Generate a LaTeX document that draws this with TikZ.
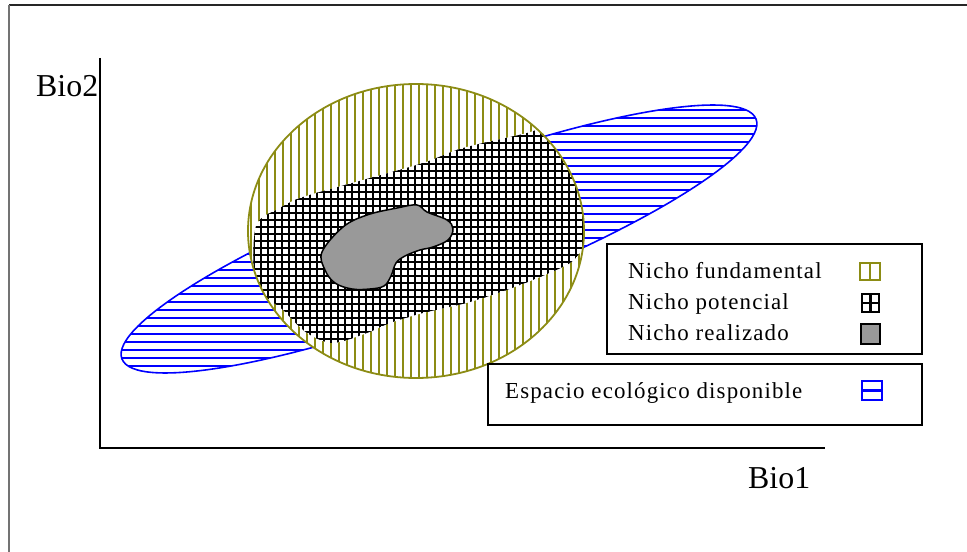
\documentclass[tikz,border=0pt]{standalone}
\usepackage{fontspec}
\setmainfont{Liberation Serif}
\newfontfamily\legfont[LetterSpace=5]{Liberation Serif}
\definecolor{olv}{RGB}{140,140,20}
\definecolor{blu}{RGB}{0,0,255}
\definecolor{gry}{RGB}{153,153,153}
\tikzset{
  axislabel/.style={anchor=base west, inner sep=0pt, font=\fontsize{32}{32}\selectfont},
  legtext/.style={anchor=base west, inner sep=0pt, font=\legfont\fontsize{23}{23}\selectfont},
  legbox/.style={draw=black, line width=1.6pt},
  olvline/.style={olv, line width=2pt},
  bluline/.style={blu, line width=2pt},
  gridline/.style={black, line width=2.1pt},
}
\begin{document}
\begin{tikzpicture}[x=1bp,y=-1bp]
\useasboundingbox (0,0) rectangle (967,552);
\fill[white] (0,0) rectangle (967,552);
% outer frame
\draw[line width=1.6pt, black!85] (9,5) -- (967,5);
\draw[line width=1.6pt, black!55] (9,5) -- (9,552);

% axes
\coordinate (top) at (100,58);
\coordinate (orig) at (100,448);
\coordinate (xend) at (825,448);
\draw[line width=1.6pt] (top) -- (orig) -- (xend);
\node[axislabel] (bio2) at (36,97) {Bio2};
\node[axislabel] (bio1) at (748,488) {Bio1};

% blue ellipse (espacio ecologico)
\begin{scope}
  \clip[rotate around={20.7:(439,239)}] (439,239) ellipse (339 and 64);
  \fill[white] (90,90) rectangle (800,390);
  \foreach \y in {102,110,...,380} \draw[bluline] (90,\y) -- (800,\y);
\end{scope}
\draw[blu, line width=1.6pt, rotate around={20.7:(439,239)}] (439,239) ellipse (339 and 64);

% circle (nicho fundamental)
\begin{scope}
  \clip (416,231) ellipse (168 and 147);
  \fill[white] (240,80) rectangle (590,380);
  \foreach \x in {251,259,...,590} \draw[olvline] (\x,80) -- (\x,380);
  % nicho potencial (crosshatch)
  \clip plot[smooth cycle, tension=0.5] coordinates {
    (256,226) (280,208) (303,197) (363,180) (423,163) (463,148) (527,133)
    (570,120) (615,140) (612,235) (590,240) (570,263) (520,285) (470,302)
    (423,313) (390,323) (367,333) (333,343) (307,333) (283,310) (256,284)};
  \fill[white] (240,100) rectangle (600,360);
  \foreach \x in {254,261,...,600} \draw[gridline] (\x,100) -- (\x,360);
  \foreach \y in {101,108,...,360} \draw[gridline] (240,\y) -- (600,\y);
\end{scope}
\draw[olv, line width=1.8pt] (416,231) ellipse (168 and 147);

% nicho realizado (blob)
\draw[fill=gry, line width=1.5pt] plot[smooth cycle, tension=0.6] coordinates {
  (322,252) (343,227) (367,215) (397,208) (417,205) (427,212) (447,220)
  (453,229) (448,240) (433,247) (420,250) (405,256) (396,263) (391,276)
  (384,286) (370,289) (352,289) (335,283) (325,270)};

% legend 1
\draw[legbox] (607,244) rectangle (922,354);
\node[legtext] (lf) at (628,279) {Nicho fundamental};
\node[legtext] (lp) at (628,310) {Nicho potencial};
\node[legtext] (lr) at (628,341) {Nicho realizado};
\draw[olv, line width=2.2pt] (860,263) rectangle (880,280) (870,263) -- (870,280);
\draw[black, line width=2.2pt] (862,294) rectangle (879,312) (870.5,294) -- (870.5,312) (862,303) -- (879,303);
\draw[fill=gry, line width=1.6pt] (861,324) rectangle (880,344);

% legend 2
\draw[legbox] (488,364) rectangle (922,425);
\node[legtext] (le) at (505,398) {Espacio ecológico disponible};
\draw[blu, line width=2.2pt] (862,381) rectangle (882,400) (862,390.5) -- (882,390.5);
\end{tikzpicture}
\end{document}
